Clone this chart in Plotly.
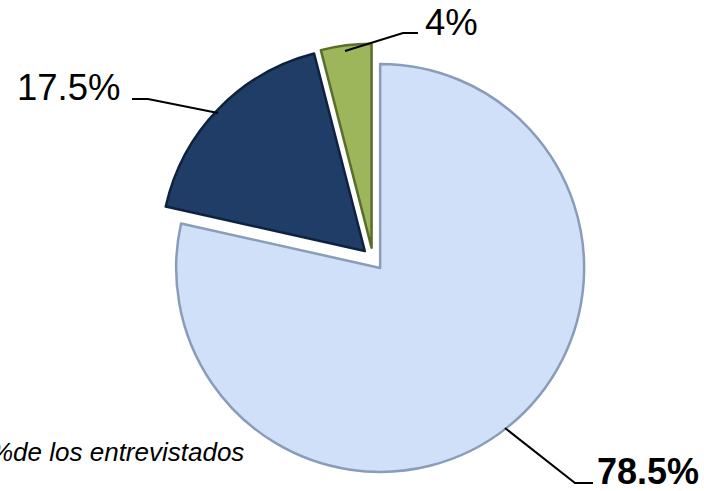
import plotly.graph_objects as go

W, H = 704, 491

# datos
categorias = ['Sí', 'No', 'NS/NC']
porcentajes = [78.5, 17.5, 4.0]
etiquetas = ['78.5%', '17.5%', '4%']
colores = ['#CFE0F8', '#1F3D66', '#9DB65C']
bordes = ['#8A9CB8', '#0E2240', '#5A6E2C']


def px(x, y):
    # pixel (desde arriba-izquierda) -> coordenadas paper
    return x / W, 1 - y / H


fig = go.Figure(go.Pie(
    labels=categorias,
    values=porcentajes,
    sort=False,
    direction='clockwise',
    rotation=0,
    pull=[0.056, 0.056, 0.056],
    textinfo='none',
    hoverinfo='label+percent',
    marker=dict(colors=colores, line=dict(color=bordes, width=2.5)),
    domain=dict(x=[157.6 / W, 588.4 / W], y=[16.6 / H, 447.4 / H]),
))

# lineas guia de las etiquetas (en pixeles)
guias = [
    [(505, 428), (575, 483), (593, 483)],
    [(218, 113), (148, 99), (132, 99)],
    [(345, 51), (403, 33), (418, 33)],
]
shapes = []
for pts in guias:
    p = [px(*q) for q in pts]
    path = 'M {} {} '.format(*p[0]) + ' '.join('L {} {}'.format(*q) for q in p[1:])
    shapes.append(dict(type='path', xref='paper', yref='paper', path=path,
                       line=dict(color='black', width=2)))

# posiciones de texto
pos_texto = [(595, 471, 'left'), (123, 88, 'right'), (423, 22, 'left')]
annotations = []
for (x, y, anc), txt, i in zip(pos_texto, etiquetas, range(3)):
    ax, ay = px(x, y)
    annotations.append(dict(
        x=ax, y=ay, xref='paper', yref='paper', xanchor=anc, yanchor='middle',
        text='<b>' + txt + '</b>' if i == 0 else txt, showarrow=False,
        font=dict(family='Liberation Sans, Arial', size=36 if i == 0 else 36.5, color='black'),
    ))

nx, ny = px(246, 452)
annotations.append(dict(
    x=nx, y=ny, xref='paper', yref='paper', xanchor='right', yanchor='middle',
    text='<i>%de los entrevistados</i>', showarrow=False,
    font=dict(family='Liberation Sans, Arial', size=26, color='black'),
))

fig.update_layout(
    width=W, height=H,
    margin=dict(t=0, b=0, l=0, r=0),
    paper_bgcolor='white',
    plot_bgcolor='white',
    showlegend=False,
    shapes=shapes,
    annotations=annotations,
)

fig.write_html("out.html", config={'displayModeBar': False},
               post_script="document.body.style.margin='0';")
